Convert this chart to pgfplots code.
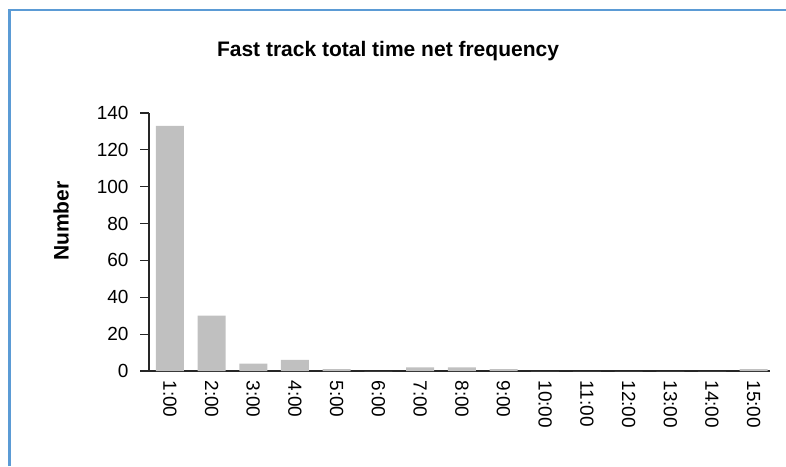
\documentclass[border=0pt]{standalone}
\usepackage{fontspec}
\setmainfont{Liberation Sans}
\usepackage{pgfplots}
\pgfplotsset{compat=1.18}
\definecolor{barc}{HTML}{C0C0C0}
\definecolor{framec}{HTML}{5B9BD5}
\begin{document}
\begin{tikzpicture}
\path[use as bounding box] (0pt,0pt) rectangle (786pt,466pt);
\draw[framec, line width=2.5pt] (9.5pt,0pt) -- (9.5pt,456pt) -- (786pt,456pt);
\node[anchor=base, font=\fontsize{21}{24}\selectfont\bfseries] at (388pt,409pt) {Fast track total time net frequency};
\node[rotate=90, font=\fontsize{21}{24}\selectfont\bfseries] at (61pt,245pt) {Number};
\begin{axis}[
  at={(149pt,95pt)}, anchor=south west,
  scale only axis, width=621pt, height=258pt,
  xmin=-0.5, xmax=14.39, ymin=0, ymax=140,
  axis lines*=left,
  axis line style={black!85, line width=1.6pt, -},
  ytick={0,20,...,140},
  xtick={0,...,14},
  xticklabels={1:00,2:00,3:00,4:00,5:00,6:00,7:00,8:00,9:00,10:00,11:00,12:00,13:00,14:00,15:00},
  xticklabel style={rotate=-90, anchor=west, font=\fontsize{19}{22}\selectfont, xshift=-3pt},
  yticklabel style={font=\fontsize{19}{22}\selectfont, xshift=-8pt},
  x tick style={draw=none},
  y tick style={black!85, line width=1.2pt},
  tick align=outside,
  major tick length=9pt,
  /pgf/number format/assume math mode=true,
  ybar, bar width=28pt,
]
\addplot[fill=barc, draw=none] coordinates {
(0,133) (1,30) (2,4) (3,6) (4,1) (5,0) (6,2) (7,2) (8,1) (9,0) (10,0) (11,0) (12,0) (13,0) (14,1)};
\end{axis}
\end{tikzpicture}
\end{document}
